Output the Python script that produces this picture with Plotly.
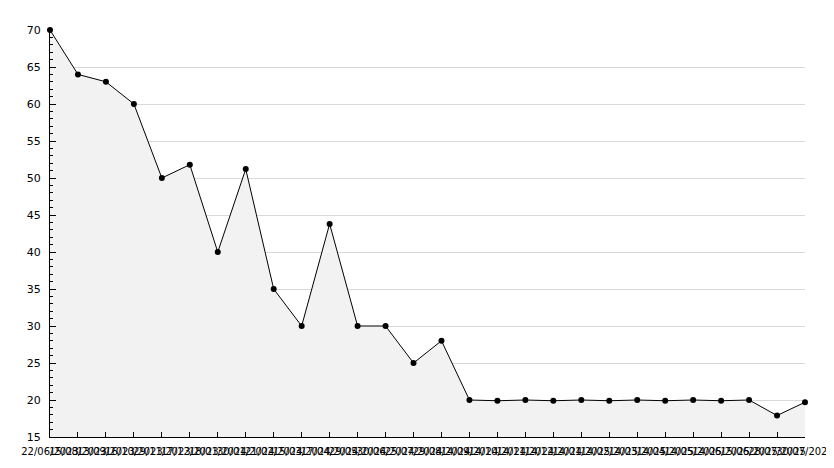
import plotly.graph_objects as go

dates = ["22/06/2023", "15/08/2023", "13/09/2023", "16/10/2023", "29/11/2023",
         "17/12/2023", "18/01/2024", "30/01/2024", "21/02/2024", "15/03/2024",
         "17/04/2024", "29/05/2024", "30/06/2024", "25/07/2024", "29/08/2024",
         "14/09/2024", "14/10/2024", "14/11/2024", "14/12/2024", "14/01/2025",
         "14/02/2025", "14/03/2025", "14/04/2025", "14/05/2025", "14/06/2025",
         "15/06/2025", "28/07/2025", "30/07/2025"]
values = [70, 64, 63, 60, 50, 51.8, 40, 51.2, 35, 30, 43.8, 30, 30, 25, 28,
          20, 19.9, 20, 19.9, 20, 19.9, 20, 19.9, 20, 19.9, 20, 17.9, 19.7]

idx = list(range(len(dates)))

fig = go.Figure()
fig.add_trace(go.Scatter(
    x=idx, y=values, mode="lines+markers",
    fill="tozeroy", fillcolor="#f2f2f2",
    line=dict(color="black", width=1),
    marker=dict(color="black", size=6, symbol="circle"),
    cliponaxis=False,
    hoverinfo="skip",
))

fig.update_layout(
    width=826, height=460,
    margin=dict(l=42, r=29, t=22, b=31, autoexpand=False),
    paper_bgcolor="white", plot_bgcolor="white",
    showlegend=False,
    font=dict(family="DejaVu Sans", size=10, color="black"),
)
fig.update_xaxes(
    range=[0, len(dates) - 1], tickmode="array", tickvals=idx, ticktext=dates,
    tickangle=0, showgrid=False, zeroline=False, automargin=False,
    showline=True, linecolor="black", linewidth=1,
    ticks="inside", ticklen=5, tickcolor="black", ticklabelstandoff=5,
)
fig.update_yaxes(
    range=[15, 70], dtick=5, tick0=15, showgrid=True, gridcolor="#d9d9d9",
    zeroline=False, showline=True, linecolor="black", linewidth=1, automargin=False,
    ticks="inside", ticklen=6, tickcolor="black", ticklabelstandoff=6,
    tickfont=dict(size=11),
    minor=dict(ticks="inside", dtick=1, ticklen=3, tickcolor="black", showgrid=False),
)

fig.write_html("out.html")
